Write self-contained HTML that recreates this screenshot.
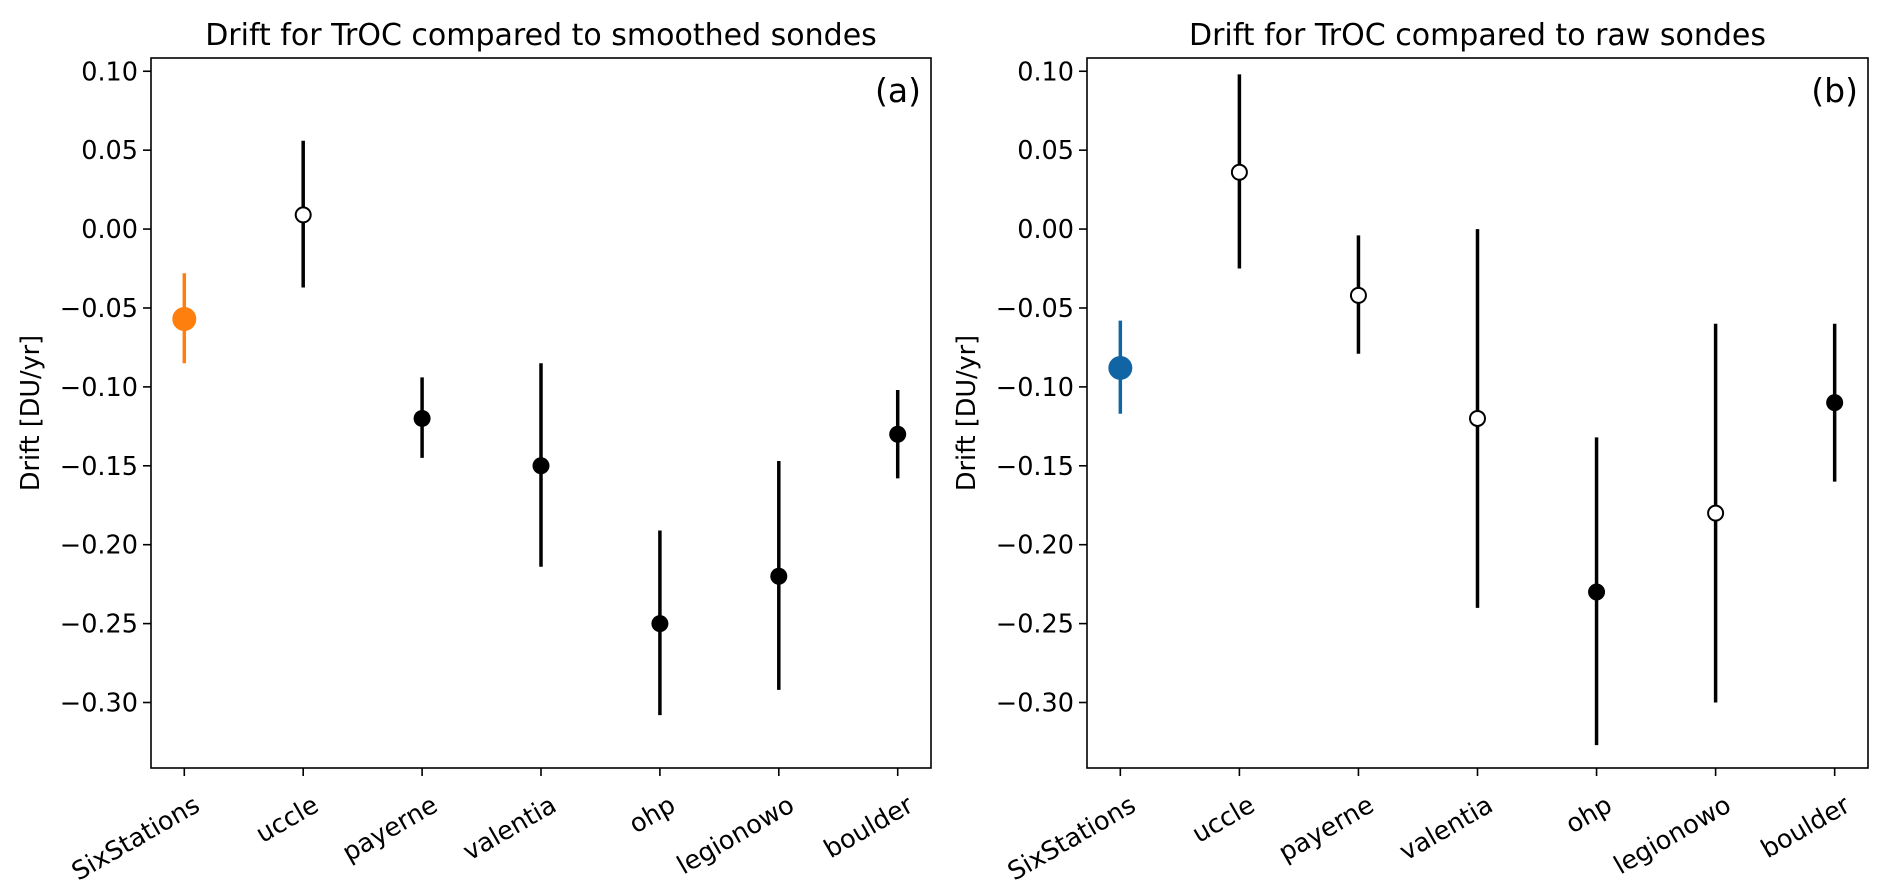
<!DOCTYPE html>
<html><head><meta charset="utf-8"><style>
body{margin:0;background:#fff}
svg{display:block;font-family:"DejaVu Sans","Liberation Sans",sans-serif}
</style></head><body>
<svg id="chart" width="1892" height="889" xmlns="http://www.w3.org/2000/svg"></svg>
<script>
const categories=["SixStations","uccle","payerne","valentia","ohp","legionowo","boulder"];
const smoothVals=[-0.057,0.009,-0.12,-0.15,-0.25,-0.22,-0.13];
const smoothLo=[-0.085,-0.037,-0.145,-0.214,-0.308,-0.292,-0.158];
const smoothHi=[-0.028,0.056,-0.094,-0.085,-0.191,-0.147,-0.102];
const smoothOpen=[false,true,false,false,false,false,false];
const rawVals=[-0.088,0.036,-0.042,-0.12,-0.23,-0.18,-0.11];
const rawLo=[-0.117,-0.025,-0.079,-0.24,-0.327,-0.30,-0.16];
const rawHi=[-0.058,0.098,-0.004,0.0,-0.132,-0.06,-0.06];
const rawOpen=[false,true,true,true,false,true,false];
const yTicks=[0.10,0.05,0.00,-0.05,-0.10,-0.15,-0.20,-0.25,-0.30];
const yTickLabels=["0.10","0.05","0.00","−0.05","−0.10","−0.15","−0.20","−0.25","−0.30"];

const svg=document.getElementById('chart');
const NS="http://www.w3.org/2000/svg";
function mk(tag,attrs,parent){const e=document.createElementNS(NS,tag);for(const k in attrs)e.setAttribute(k,attrs[k]);(parent||svg).appendChild(e);return e;}

function panel(x0,x1,title,tag,vals,lo,hi,open,hl,pname){
  const top=58,bot=768;
  const g=mk('g',{});
  
  
  const yMin=-0.3415,yMax=0.1084;
  const y=v=>top+(yMax-v)/(yMax-yMin)*(bot-top);
  const pad=0.28,n=categories.length;
  const x=i=>x0+(i+pad)/(n-1+2*pad)*(x1-x0);
  const t=mk('text',{x:(x0+x1)/2,y:45,'text-anchor':'middle','font-size':30,fill:'#000'},g);
  t.textContent=title;
  
  
  const tg=mk('text',{x:x1-10,y:102,'text-anchor':'end','font-size':33,fill:'#000'},g);
  tg.textContent=tag;
  
  
  yTicks.forEach((v,i)=>{
    mk('line',{x1:x0-8,x2:x0,y1:y(v),y2:y(v),stroke:'#000','stroke-width':1.6},g);
    const l=mk('text',{x:x0-13,y:y(v)+9,'text-anchor':'end','font-size':25.5},g);
    l.textContent=yTickLabels[i];
    
    
  });
  const yl=mk('text',{transform:`translate(${x0-112},${(top+bot)/2}) rotate(-90)`,'text-anchor':'middle','font-size':25.5},g);
  yl.textContent='Drift [DU/yr]';
  
  
  categories.forEach((c,i)=>{
    const xi=x(i);
    mk('line',{x1:xi,x2:xi,y1:bot,y2:bot+8,stroke:'#000','stroke-width':1.6},g);
    const l=mk('text',{transform:`translate(${xi+8},${bot+26}) rotate(-30)`,'text-anchor':'end','font-size':25.5,'dominant-baseline':'hanging'},g);
    l.textContent=c;
    
    
    const col=i===0?hl:'#000';
    const eb=mk('line',{x1:xi,x2:xi,y1:y(lo[i]),y2:y(hi[i]),stroke:col,'stroke-width':3.5},g);
    
    
    const r=i===0?12:open[i]?7.5:8.5;
    const m=mk('circle',{cx:xi,cy:y(vals[i]),r:r,fill:open[i]?'#fff':col,stroke:col,'stroke-width':open[i]?2:0},g);
    
    
  });
  mk('rect',{x:x0,y:top,width:x1-x0,height:bot-top,fill:'none',stroke:'#000','stroke-width':1.6},g);
}
panel(151,931,'Drift for TrOC compared to smoothed sondes','(a)',smoothVals,smoothLo,smoothHi,smoothOpen,'#ff7f0e','panel-smoothed');
panel(1087,1868,'Drift for TrOC compared to raw sondes','(b)',rawVals,rawLo,rawHi,rawOpen,'#1265a5','panel-raw');
</script>
</body></html>
